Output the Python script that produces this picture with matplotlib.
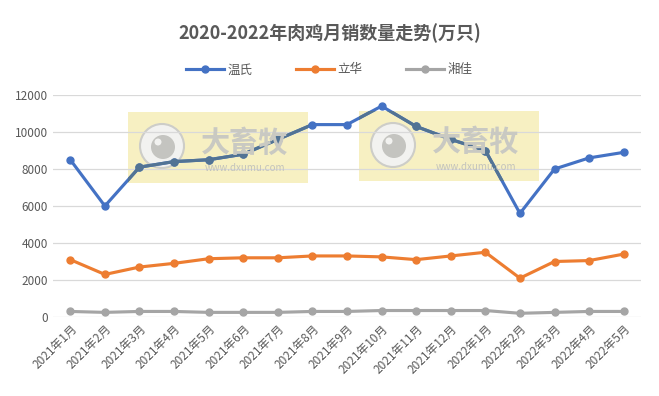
import matplotlib
matplotlib.use("Agg")
import matplotlib.pyplot as plt
from matplotlib.patches import Rectangle, Circle

plt.rcParams['font.family'] = ['Noto Sans CJK SC', 'DejaVu Sans']

# data
months = ['2021年1月', '2021年2月', '2021年3月', '2021年4月', '2021年5月', '2021年6月',
          '2021年7月', '2021年8月', '2021年9月', '2021年10月', '2021年11月', '2021年12月',
          '2022年1月', '2022年2月', '2022年3月', '2022年4月', '2022年5月']
wenshi = [8500, 6000, 8100, 8400, 8500, 8800, 9600, 10400, 10400, 11400, 10300, 9600,
          9000, 5600, 8000, 8600, 8900]
lihua = [3100, 2300, 2700, 2900, 3150, 3200, 3200, 3300, 3300, 3250, 3100, 3300,
         3500, 2100, 3000, 3050, 3400]
xiangjia = [300, 250, 300, 300, 250, 250, 250, 300, 300, 350, 350, 350,
            350, 200, 250, 300, 300]

W, H = 659, 396
fig = plt.figure(figsize=(W / 100, H / 100), dpi=100)
ax = fig.add_axes([53 / W, 1 - 317 / H, 588 / W, 222 / H])
ax.patch.set_visible(False)

x = range(len(months))
ax.plot(x, wenshi, color='#4472C4', lw=2.25, marker='o', ms=5, label='温氏', zorder=2)
ax.plot(x, lihua, color='#ED7D31', lw=2.25, marker='o', ms=5, label='立华', zorder=2)
ax.plot(x, xiangjia, color='#A5A5A5', lw=2.25, marker='o', ms=5, label='湘佳', zorder=2)

ax.set_xlim(-0.5, len(months) - 0.5)
ax.set_ylim(0, 12000)
ax.set_yticks(range(0, 12001, 2000))
ax.set_xticks(list(x))
ax.set_xticklabels(months, rotation=45, ha='right', rotation_mode='anchor')
ax.tick_params(axis='both', length=0, labelsize=8.5, colors='#595959')
ax.tick_params(axis='x', pad=4)
ax.grid(axis='y', color='#D9D9D9', lw=0.9, zorder=0.5)
ax.set_axisbelow(True)
for s in ax.spines.values():
    s.set_visible(False)

fig.text(0.5, 1 - 33 / H, '2020-2022年肉鸡月销数量走势(万只)', ha='center', va='center',
         fontsize=13, fontweight='bold', color='#595959')
fig.legend(loc='center', bbox_to_anchor=(0.5, 1 - 70 / H), ncol=3, frameon=False,
           fontsize=9, labelcolor='#595959', handlelength=3, columnspacing=3.5,
           handletextpad=0.3)

# watermark boxes (drawn under the lines, the blue line is re-tinted inside them)
for bx, by, bw, bh in [(128, 112, 180, 71), (359, 111, 180, 70)]:
    box = Rectangle((bx / W, 1 - (by + bh) / H), bw / W, bh / H, transform=fig.transFigure,
                    facecolor='#F7F0C2', edgecolor='none', zorder=0.2)
    ax.add_patch(box)
    clip = Rectangle((bx / W, 1 - (by + bh) / H), bw / W, bh / H, transform=fig.transFigure,
                     facecolor='none', edgecolor='none')
    ax.add_patch(clip)
    ln, = ax.plot(x, wenshi, color='#527394', lw=2.25, marker='o', ms=5, zorder=2.1)
    ln.set_clip_path(clip)
    # logo
    cx, cy = (bx + 34) / 100, (H - (by + 34)) / 100
    ax.add_patch(Circle((cx, cy), 0.22, transform=fig.dpi_scale_trans, facecolor='#F2F2F0',
                        edgecolor='#CDCDC8', lw=1.5, zorder=0.3))
    ax.add_patch(Circle((cx + 0.01, cy - 0.01), 0.12, transform=fig.dpi_scale_trans,
                        facecolor='#C4C4C0', edgecolor='none', zorder=0.31))
    ax.add_patch(Circle((cx - 0.04, cy + 0.04), 0.035, transform=fig.dpi_scale_trans,
                        facecolor='#F2F2F0', edgecolor='none', zorder=0.32))
    fig.text((bx + 117) / W, 1 - (by + 31) / H, '大畜牧', ha='center', va='center',
             fontsize=21, fontweight='bold', color='#C9C9C2', zorder=0.35)
    fig.text((bx + 117) / W, 1 - (by + 56) / H, 'www.dxumu.com', ha='center', va='center',
             fontsize=7, color='#C3C3BC', zorder=0.35)

fig.savefig('out.png', dpi=100, facecolor='white')
